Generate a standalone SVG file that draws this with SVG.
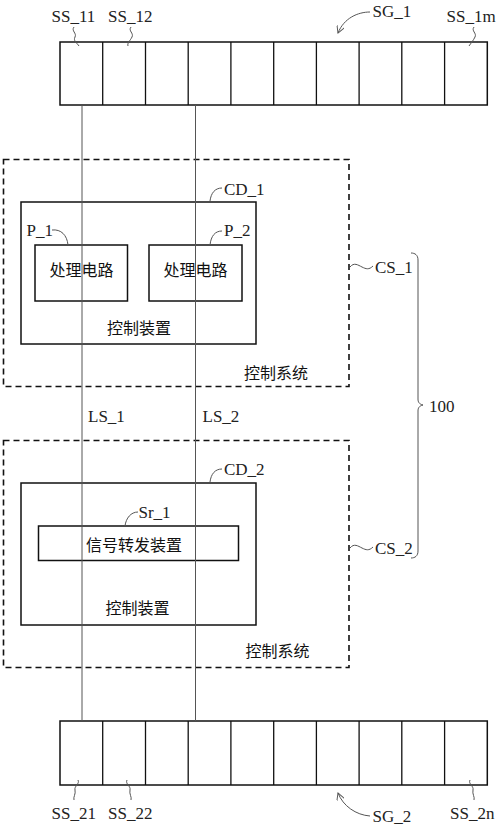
<svg xmlns="http://www.w3.org/2000/svg" width="500" height="828" viewBox="0 0 500 828">
<style>
.lat{font-family:"Liberation Serif","Times New Roman",serif;font-size:17px;fill:#222}
.cjk{font-family:"Noto Sans CJK SC","Noto Sans",sans-serif;font-size:16px;fill:#111;text-anchor:middle;dominant-baseline:central}
.box{fill:none;stroke:#111;stroke-width:1.5}
.dash{fill:none;stroke:#111;stroke-width:1.6;stroke-dasharray:6,4}
.lead{fill:none;stroke:#555;stroke-width:1}
.wire{fill:none;stroke:#555;stroke-width:1}
.cell{stroke:#111;stroke-width:1.3}
</style>
<defs>
<marker id="arr" viewBox="0 0 10 10" refX="9" refY="5" markerWidth="8" markerHeight="8" orient="auto" markerUnits="userSpaceOnUse">
<path d="M0,0 L9,5 L0,10" fill="none" stroke="#555" stroke-width="1.2"/>
</marker>
</defs>

<g id="SG_1">
<rect class="box" x="60" y="42" width="427.3" height="63"/>
<g class="cell">
<line x1="102.7" y1="42" x2="102.7" y2="105"/>
<line x1="145.5" y1="42" x2="145.5" y2="105"/>
<line x1="188.2" y1="42" x2="188.2" y2="105"/>
<line x1="230.9" y1="42" x2="230.9" y2="105"/>
<line x1="273.7" y1="42" x2="273.7" y2="105"/>
<line x1="316.4" y1="42" x2="316.4" y2="105"/>
<line x1="359.1" y1="42" x2="359.1" y2="105"/>
<line x1="401.8" y1="42" x2="401.8" y2="105"/>
<line x1="444.6" y1="42" x2="444.6" y2="105"/>
</g>
<text class="lat" x="51.5" y="22">SS_11</text>
<text class="lat" x="108" y="22">SS_12</text>
<text class="lat" x="372.5" y="17">SG_1</text>
<text class="lat" x="446.5" y="22">SS_1m</text>
<path class="lead" d="M74,27 C71,31 77,33 75,37 C73,41 77,43 79,46"/>
<path class="lead" d="M131,27 C128,31 134,33 132,37 C130,41 127,43 128,46"/>
<path class="lead" d="M474,27 C471,31 477,33 475,37 C473,41 471,43 469,46"/>
<path class="lead" d="M370,12 C358,12 344,18 338,33" marker-end="url(#arr)"/>
</g>

<g id="CS_1">
<rect class="dash" x="3.5" y="159.5" width="345.5" height="227"/>
<text class="cjk" x="276" y="371.5">控制系统</text>
<text class="lat" x="375" y="272.5">CS_1</text>
<path class="lead" d="M350,267 C354,262 358,265 362,267 C366,269 369,270 373,266"/>
</g>

<g id="CD_1">
<rect class="box" x="21" y="202" width="235" height="142"/>
<text class="cjk" x="139" y="326.5">控制装置</text>
<text class="lat" x="224" y="195">CD_1</text>
<path class="lead" d="M210,201 C211,193 215,188 222,188"/>
</g>

<g id="P_1">
<rect class="box" x="35" y="245" width="92.5" height="56"/>
<text class="cjk" x="81.5" y="269">处理电路</text>
<text class="lat" x="26.5" y="236">P_1</text>
<path class="lead" d="M52,230 C61,229 67,235 68,245"/>
</g>

<g id="P_2">
<rect class="box" x="149" y="245" width="93" height="56"/>
<text class="cjk" x="195.5" y="269">处理电路</text>
<text class="lat" x="224" y="236">P_2</text>
<path class="lead" d="M210,245 C211,236 215,231 222,231"/>
</g>

<g id="CS_2">
<rect class="dash" x="3.5" y="440.5" width="345.5" height="227"/>
<text class="cjk" x="277.5" y="649.5">控制系统</text>
<text class="lat" x="375" y="553.5">CS_2</text>
<path class="lead" d="M350,548 C354,543 358,546 362,548 C366,550 369,551 373,547"/>
</g>

<g id="CD_2">
<rect class="box" x="21" y="483" width="235" height="142"/>
<text class="cjk" x="137.5" y="606.5">控制装置</text>
<text class="lat" x="224" y="475">CD_2</text>
<path class="lead" d="M210,482 C211,474 215,469 222,469"/>
</g>

<g id="Sr_1">
<rect class="box" x="38.5" y="526" width="200" height="34.5"/>
<text class="cjk" x="134" y="543.5">信号转发装置</text>
<text class="lat" x="138.5" y="517.5">Sr_1</text>
<path class="lead" d="M125,526 C126,518 131,512 138,512"/>
</g>

<g id="SG_2">
<rect class="box" x="60" y="721" width="427.3" height="64"/>
<g class="cell">
<line x1="102.7" y1="721" x2="102.7" y2="785"/>
<line x1="145.5" y1="721" x2="145.5" y2="785"/>
<line x1="188.2" y1="721" x2="188.2" y2="785"/>
<line x1="230.9" y1="721" x2="230.9" y2="785"/>
<line x1="273.7" y1="721" x2="273.7" y2="785"/>
<line x1="316.4" y1="721" x2="316.4" y2="785"/>
<line x1="359.1" y1="721" x2="359.1" y2="785"/>
<line x1="401.8" y1="721" x2="401.8" y2="785"/>
<line x1="444.6" y1="721" x2="444.6" y2="785"/>
</g>
<text class="lat" x="51.5" y="818.5">SS_21</text>
<text class="lat" x="108" y="818.5">SS_22</text>
<text class="lat" x="372.5" y="822">SG_2</text>
<text class="lat" x="450" y="818.5">SS_2n</text>
<path class="lead" d="M78,780 C80,784 74,786 75,790 C76,794 73,797 74,800"/>
<path class="lead" d="M127,780 C125,784 131,786 130,790 C129,794 132,797 131,800"/>
<path class="lead" d="M470,780 C468,784 474,786 473,790 C472,794 475,797 474,800"/>
<path class="lead" d="M370,816 C356,815 343,806 338,793" marker-end="url(#arr)"/>
</g>

<g id="system_100">
<path class="lead" d="M411,253 C415,253 418,255 418,260 L418,399 C418,402 419,404 423,405 C419,406 418,408 418,411 L418,551 C418,556 415,558 411,558"/>
<text class="lat" x="429" y="412">100</text>
</g>

<g id="connectors">
<line class="wire" x1="82" y1="105" x2="82" y2="721"/>
<line class="wire" x1="195.5" y1="105" x2="195.5" y2="721"/>
<text class="lat" x="88" y="421.5">LS_1</text>
<text class="lat" x="202.5" y="421.5">LS_2</text>
</g>
</svg>
